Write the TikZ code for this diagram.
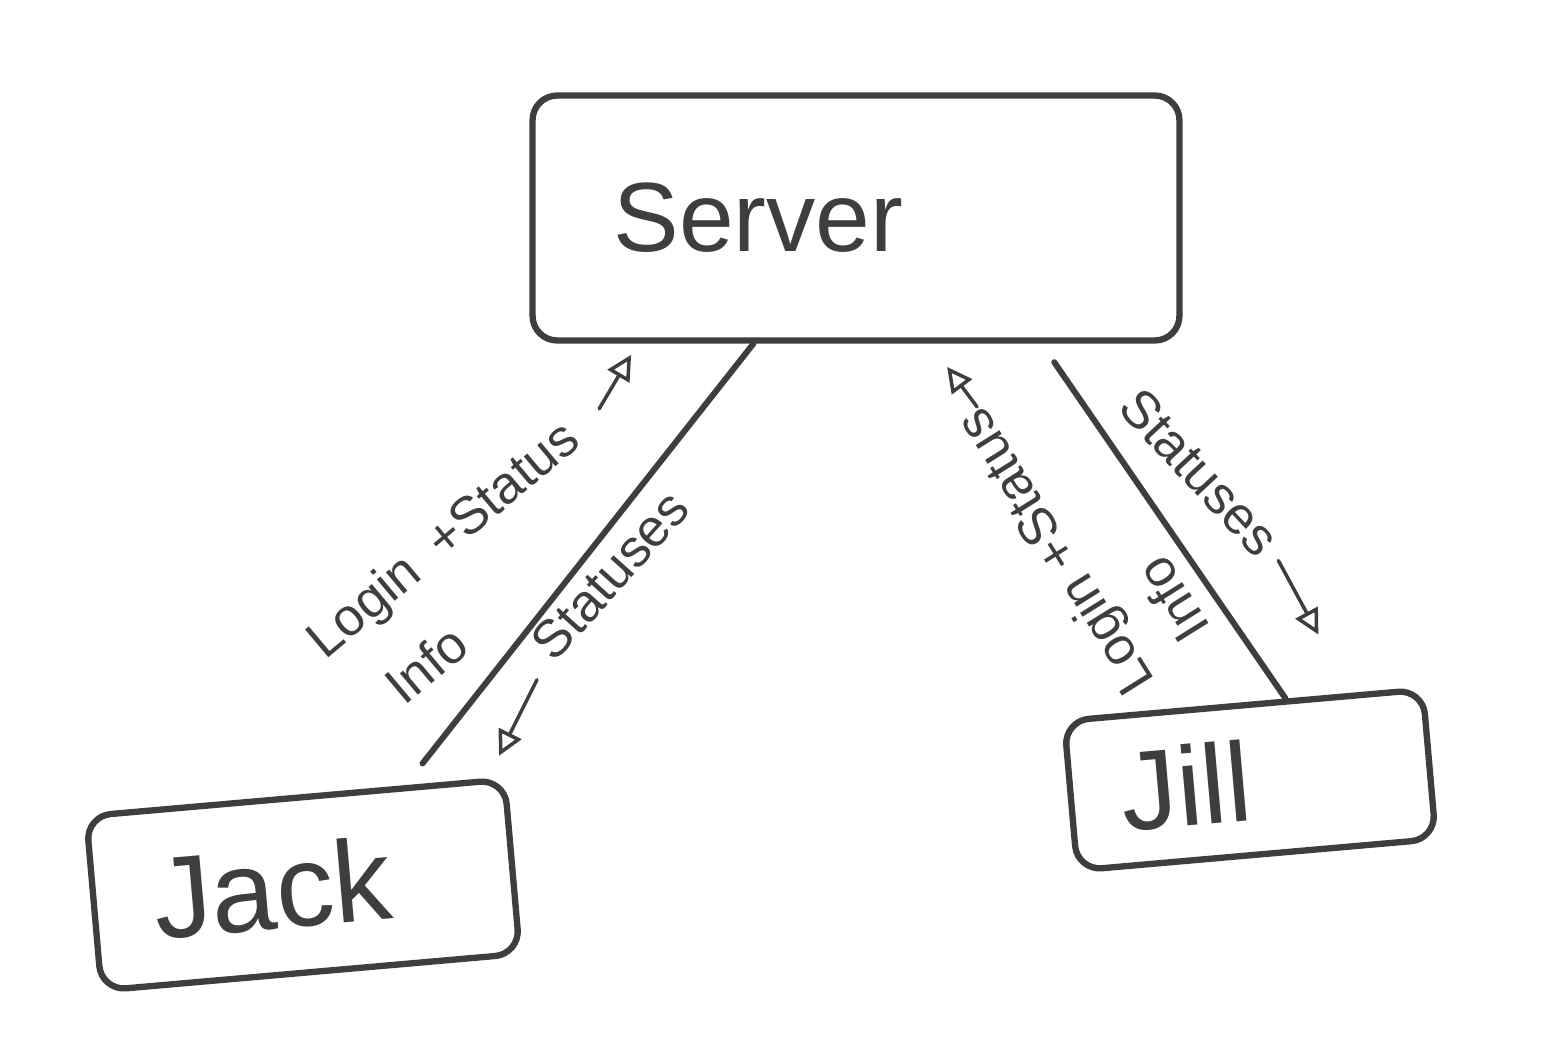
\documentclass[tikz,border=0pt]{standalone}
\usepackage{fontspec}
\setmainfont{Liberation Sans}
\usetikzlibrary{arrows.meta,calc}
\definecolor{pencilInk}{RGB}{62,62,62}
\tikzset{
  box/.style={draw=pencilInk, line width=3.6pt, rounded corners=14pt, text=pencilInk, align=left},
  serverbox/.style={box, minimum width=12.94cm, minimum height=4.9cm, text width=9.7cm, inner xsep=1.62cm, font=\fontsize{56}{60}\selectfont},
  userbox/.style={box, rotate=5, font=\fontsize{64}{68}\selectfont},
  note/.style={text=pencilInk, inner sep=1pt, font=\fontsize{30}{34}\selectfont},
  flow/.style={draw=pencilInk, line width=3.4pt, line cap=round},
  tipflow/.style={draw=pencilInk, line width=2pt, line cap=round, -{Triangle[open, length=5mm, width=5mm, line width=2pt]}}
}

\begin{document}
\begin{tikzpicture}[x=0.02cm, y=-0.02cm]
        \useasboundingbox (0,0) rectangle (1549,1056);
        \node[serverbox] (server) at (856,218) {Server};
        \node[userbox, minimum width=8.4cm, minimum height=3.5cm, text width=6cm, inner xsep=1.2cm, font=\fontsize{66}{70}\selectfont] (jack) at (303,885) {Jack};
        \node[userbox, minimum width=7.2cm, minimum height=3cm, text width=5.2cm, inner xsep=1cm] (jill) at (1250,780) {Jill};
        \draw[flow, shorten >=0.55cm] ($(server.south west)!0.343!(server.south east)$) -- ($(jack.north west)!0.76!(jack.north east)$);
        \draw[flow, shorten <=0.45cm] ($(server.south west)!0.784!(server.south east)$) -- ($(jill.north west)!0.616!(jill.north east)$);
        % labels along the wires
        \node[note, rotate=40] (loginL) at (445,542) {Login\enspace+Status};
        \node[note, rotate=40] (infoL) at (426,664) {Info};
        \node[note, rotate=48] (statusL) at (610,575) {Statuses};
        \node[note, rotate=122] (loginR) at (1058,550) {Login +Status};
        \node[note, rotate=122] (infoR) at (1172,600) {Info};
        \node[note, rotate=-47] (statusR) at (1200,472) {Statuses};
        \draw[tipflow] ([shift={(24,-24)}]loginL.east) -- ++(32,-54);
        \draw[tipflow] ([shift={(-3,27)}]statusL.west) -- ++(-38,76);
        \draw[tipflow] ([shift={(6,-4)}]loginR.east) -- ++(-30,-40);
        \draw[tipflow] ([shift={(7,12)}]statusR.east) -- ++(40,74);
      \end{tikzpicture}
\end{document}
